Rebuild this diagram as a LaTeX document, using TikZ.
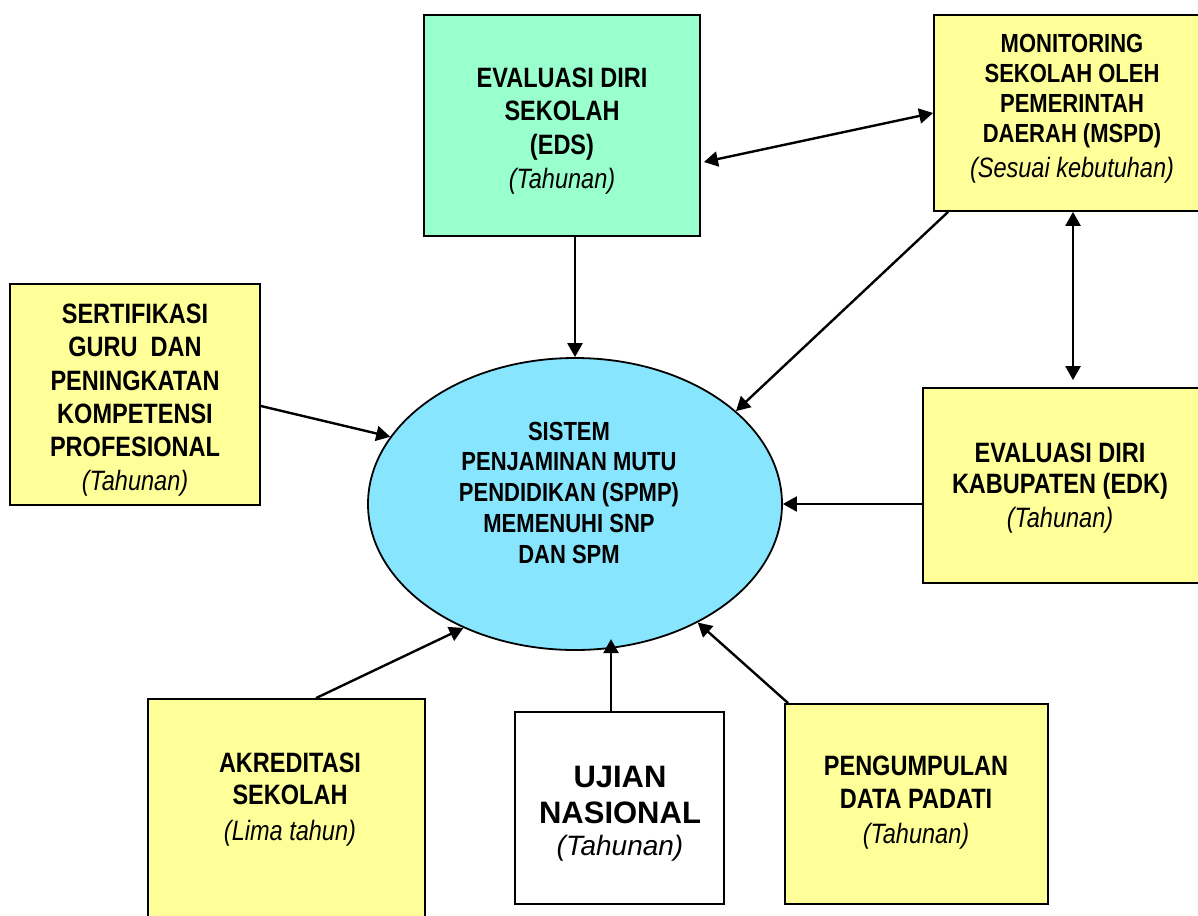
\documentclass[tikz,border=0pt]{standalone}
\usepackage{fontspec}
\setmainfont{Liberation Sans}
\newfontfamily\narfont{Liberation Sans}[FakeStretch=0.84]
\usetikzlibrary{arrows.meta,shapes.geometric,calc}
\definecolor{boxgreen}{HTML}{99FFCC}
\definecolor{boxyellow}{HTML}{FFFF99}
\definecolor{ellblue}{HTML}{88E5FE}
\newcommand\myfs[2]{\narfont\fontsize{#1}{#2}\selectfont\bfseries}
\newcommand\myit[1]{{\mdseries\itshape #1}}
\begin{document}
\begin{tikzpicture}[x=1pt,y=-1pt,
  boxshape/.style={draw=black,line width=1.8pt,inner sep=0pt},
  txt/.style={anchor=north,inner sep=0pt,align=center},
  arr/.style={line width=2.4pt,-{Triangle[length=14pt,width=15pt]}},
  darr/.style={line width=2.4pt,{Triangle[length=14pt,width=15pt]}-{Triangle[length=14pt,width=15pt]}}]
\useasboundingbox (0,0) rectangle (1198,915);
\clip (0,0) rectangle (1198,915);
% boxes
\node[boxshape,fill=boxgreen,minimum width=276pt,minimum height=221pt] (eds) at (562,125.5) {};
\node[boxshape,fill=boxyellow,minimum width=268pt,minimum height=196pt] (mspd) at (1068,113) {};
\node[boxshape,fill=boxyellow,minimum width=250pt,minimum height=221pt] (sert) at (135,394.5) {};
\node[boxshape,fill=boxyellow,minimum width=279pt,minimum height=195pt] (edk) at (1062.5,485.5) {};
\node[boxshape,fill=boxyellow,minimum width=277pt,minimum height=226pt] (akr) at (286.5,812) {};
\node[boxshape,fill=white,minimum width=209pt,minimum height=192pt] (ujian) at (619.5,808) {};
\node[boxshape,fill=boxyellow,minimum width=263pt,minimum height=200pt] (peng) at (916.5,804) {};
\node[boxshape,ellipse,fill=ellblue,minimum width=414pt,minimum height=292pt] (ell) at (575,504) {};
% texts
\node[txt,font=\myfs{28}{33.7}] (teds) at (562,63)
  {\rule{0pt}{24pt}EVALUASI DIRI\\SEKOLAH\\(EDS)\\\myit{(Tahunan)}};
\node[txt,font=\myfs{26.2}{30}] (tmspd) at (1072,28)
  {\rule{0pt}{24pt}MONITORING\\SEKOLAH OLEH\\PEMERINTAH\\DAERAH (MSPD)\\[5pt]\myit{\fontsize{28}{30}\selectfont(Sesuai kebutuhan)}};
\node[txt,font=\myfs{28}{33.4}] (tsert) at (135,299)
  {\rule{0pt}{24pt}SERTIFIKASI\\GURU\ \ DAN\\PENINGKATAN\\KOMPETENSI\\PROFESIONAL\\\myit{(Tahunan)}};
\node[txt,font=\myfs{26.2}{30.75}] (tell) at (569,416)
  {\rule{0pt}{24pt}SISTEM\\PENJAMINAN MUTU\\PENDIDIKAN (SPMP)\\MEMENUHI SNP\\DAN SPM};
\node[txt,font=\myfs{28}{31}] (tedk) at (1060,438)
  {\rule{0pt}{24pt}EVALUASI DIRI\\KABUPATEN (EDK)\\[3pt]\myit{(Tahunan)}};
\node[txt,font=\myfs{28}{32}] (takr) at (290,748)
  {\rule{0pt}{24pt}AKREDITASI\\SEKOLAH\\[4pt]\myit{(Lima tahun)}};
\node[txt,font=\fontsize{31}{36}\selectfont\bfseries] (tujian) at (620,761)
  {\rule{0pt}{26pt}UJIAN\\NASIONAL\\[-4pt]\myit{\fontsize{28}{32}\selectfont(Tahunan)}};
\node[txt,font=\myfs{28}{33}] (tpeng) at (916,751)
  {\rule{0pt}{24pt}PENGUMPULAN\\DATA PADATI\\[2pt]\myit{(Tahunan)}};
% connectors
\draw[arr] (eds.south -| ell.north) -- (ell.north);
\draw[darr] ($(eds.east)+(3,36.5)$) -- (mspd.west);
\draw[arr] ($(mspd.south west)+(15,0)$) -- (ell.30);
\draw[darr] ($(mspd.south)+(5,0)$) -- ($(edk.north)+(10.5,-7)$);
\draw[arr] ($(edk.west)+(0,18.5)$) -- (ell.east);
\draw[arr] ($(sert.east)+(0,11.5)$) -- (ell.160);
\draw[arr] ($(akr.north)+(29.5,0)$) -- (ell.228);
\draw[arr] ($(ujian.north)+(-8.5,0)$) -- ($(ujian.north)+(-8.5,-72)$);
\draw[arr] ($(peng.north west)+(4,0)$) -- (ell.-44);
\end{tikzpicture}
\end{document}
